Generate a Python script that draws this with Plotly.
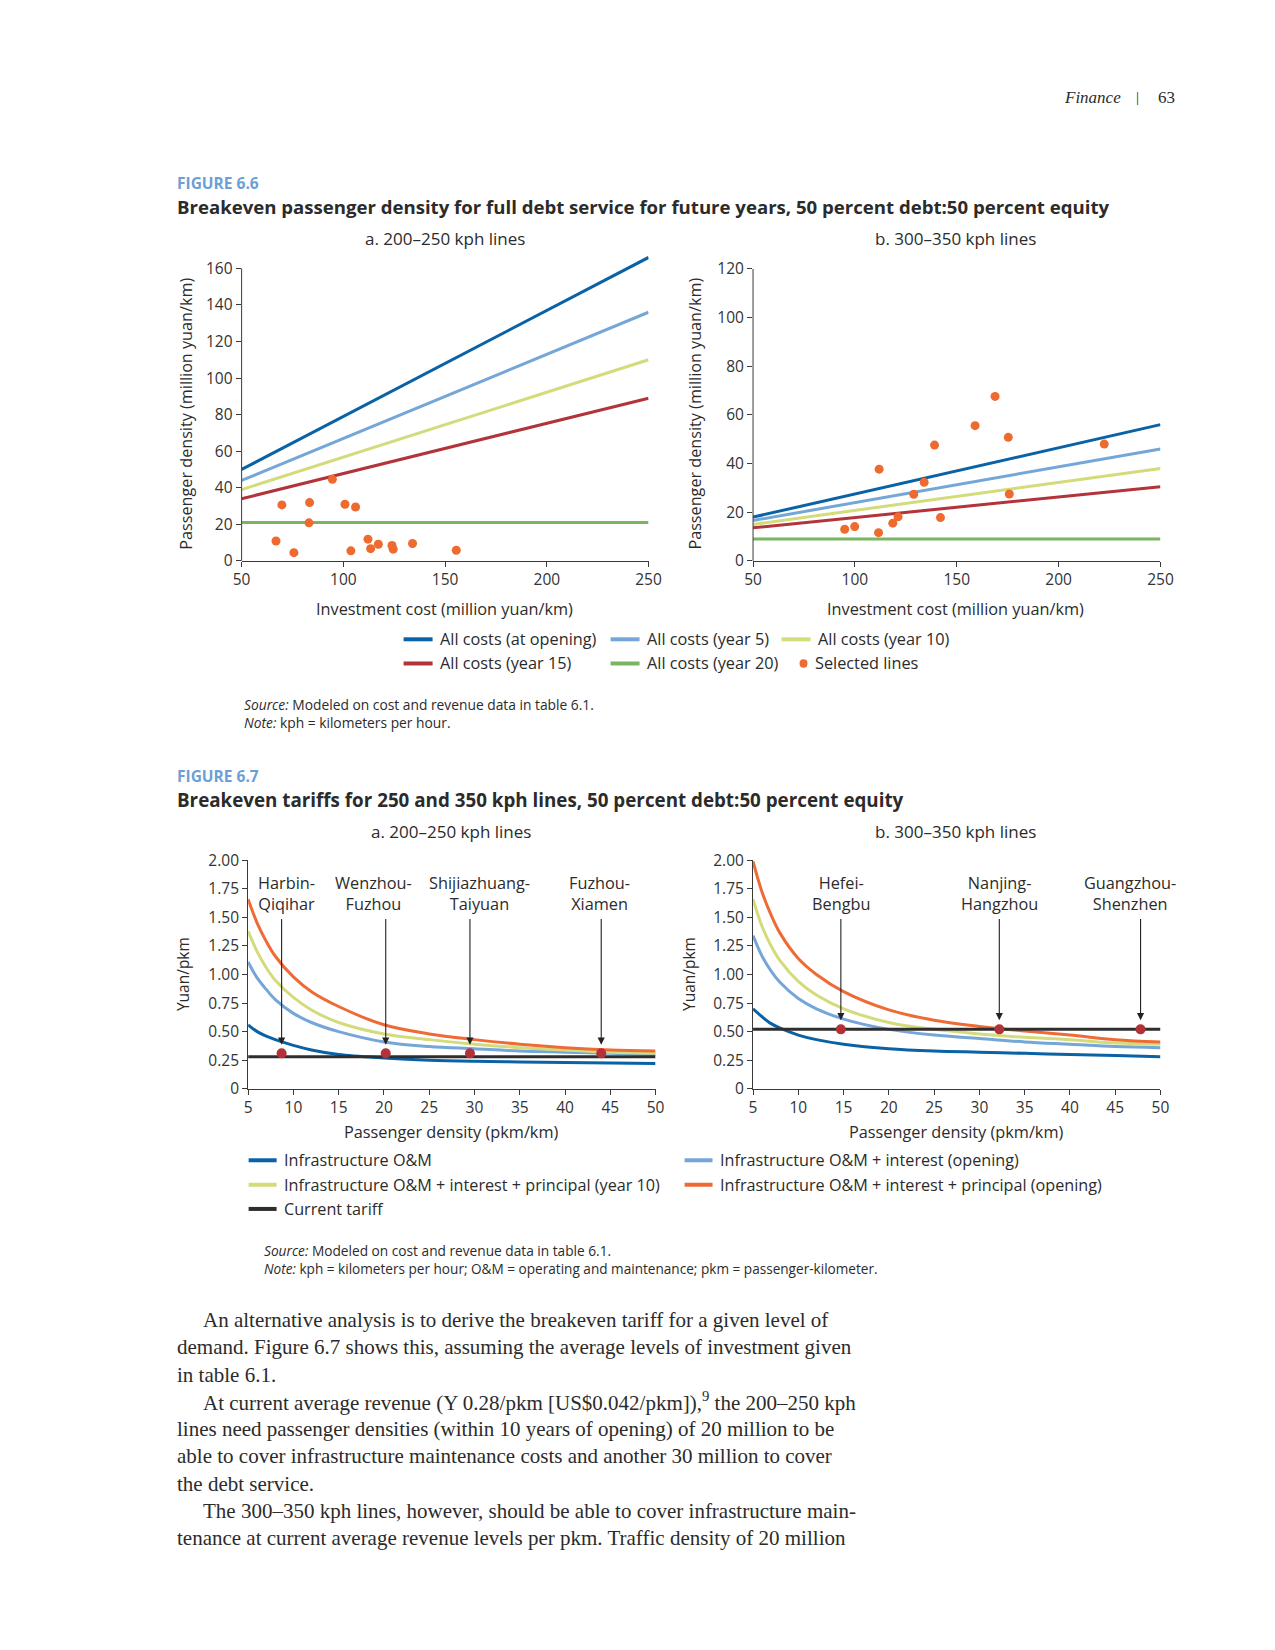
import plotly.graph_objects as go

W, H = 1275, 1650
# layout positions below are measured on the reference; these map them to page pixels
def X(px): return (1.0174 * (px - 241) + 236.7) / W
def Y(py): return 1 - (1.0125 * (py - 95) + 86.5) / H

# ---------------- DATA ----------------
# Figure 6.6 a (200-250 kph)
inv = [50, 250]
a_open = [50, 166]
a_y5 = [44, 136]
a_y10 = [39, 110]
a_y15 = [34, 89]
a_y20 = [21, 21]
pts_a_x = [94.6, 69.8, 83.4, 100.8, 106.0, 83.1, 66.9, 75.7, 103.7, 112.1, 113.4, 117.2, 123.9, 124.5, 134.0, 155.5]
pts_a_y = [44.6, 30.6, 31.9, 31.0, 29.5, 20.8, 10.9, 4.5, 5.5, 11.9, 6.7, 9.1, 8.4, 6.4, 9.5, 5.8]

# Figure 6.6 b (300-350 kph)
b_open = [18, 56]
b_y5 = [16.6, 46]
b_y10 = [15, 38]
b_y15 = [13.6, 30.5]
b_y20 = [9, 9]
pts_b_x = [95.0, 99.9, 111.6, 111.9, 118.6, 121.2, 128.9, 134.0, 139.1, 142.0, 159.0, 175.3, 175.8, 168.8, 222.4]
pts_b_y = [13.0, 14.1, 11.6, 37.7, 15.5, 18.1, 27.4, 32.3, 47.6, 17.8, 55.6, 50.8, 27.5, 67.6, 48.0]

# Figure 6.7 curves
dens = [5, 6, 7, 8, 10, 12, 15, 20, 25, 30, 35, 40, 45, 50]
ta_om = [0.56, 0.50, 0.46, 0.43, 0.38, 0.34, 0.30, 0.27, 0.25, 0.24, 0.235, 0.23, 0.225, 0.22]
ta_int = [1.11, 0.97, 0.87, 0.78, 0.66, 0.58, 0.50, 0.41, 0.37, 0.35, 0.33, 0.32, 0.31, 0.30]
ta_p10 = [1.38, 1.20, 1.06, 0.95, 0.80, 0.69, 0.58, 0.48, 0.43, 0.39, 0.36, 0.34, 0.32, 0.31]
ta_pop = [1.66, 1.45, 1.29, 1.16, 0.98, 0.85, 0.72, 0.56, 0.48, 0.43, 0.39, 0.36, 0.34, 0.33]
tariff_a = 0.28
lines_a = ["Harbin-<br>Qiqihar", "Wenzhou-<br>Fuzhou", "Shijiazhuang-<br>Taiyuan", "Fuzhou-<br>Xiamen"]
lines_a_x = [8.7, 20.2, 29.5, 44.0]
lines_a_lbl_x = [9.2, 18.9, 30.6, 43.8]
lines_a_y = [0.31, 0.31, 0.31, 0.31]

tb_om = [0.70, 0.63, 0.57, 0.53, 0.47, 0.43, 0.39, 0.35, 0.33, 0.32, 0.31, 0.30, 0.29, 0.28]
tb_int = [1.34, 1.16, 1.03, 0.93, 0.79, 0.70, 0.61, 0.52, 0.47, 0.44, 0.41, 0.39, 0.37, 0.36]
tb_p10 = [1.66, 1.42, 1.25, 1.12, 0.94, 0.82, 0.70, 0.58, 0.52, 0.48, 0.45, 0.43, 0.40, 0.39]
tb_pop = [1.99, 1.72, 1.52, 1.36, 1.14, 1.00, 0.85, 0.69, 0.60, 0.545, 0.505, 0.47, 0.43, 0.41]
tariff_b = 0.52
lines_b = ["Hefei-<br>Bengbu", "Nanjing-<br>Hangzhou", "Guangzhou-<br>Shenzhen"]
lines_b_x = [14.7, 32.2, 47.8]
lines_b_lbl_x = [14.7, 32.2, 46.6]
lines_b_y = [0.52, 0.52, 0.52]

yt66a = [0, 20, 40, 60, 80, 100, 120, 140, 160]
yt66b = [0, 20, 40, 60, 80, 100, 120]
yt67_vals = [0, 0.25, 0.5, 0.75, 1.0, 1.25, 1.5, 1.75, 2.0]
yt67_text = ["0", "0.25", "0.50", "0.75", "1.00", "1.25", "1.50", "1.75", "2.00"]

# ---------------- STYLE ----------------
C_DB = "#0a62a6"
C_LB = "#74a7d8"
C_YG = "#d3db7b"
C_RD = "#b2333a"
C_GR = "#7ab563"
C_OR = "#ee6a2f"
C_OR2 = "#ee6b35"
C_BK = "#2e2e2e"
C_DOT = "#b3323a"
C_AX = "#3a3a3a"
SANS = "Open Sans"
SERIF = "Liberation Serif"
TXT = "#2b2b2b"

fig = go.Figure()

def line(x, y, color, xa, ya, w=3, shape="linear"):
    fig.add_trace(go.Scatter(x=x, y=y, mode="lines", line=dict(color=color, width=w, shape=shape),
                             xaxis=xa, yaxis=ya, showlegend=False, hoverinfo="skip"))

# 6.6a
for ys, c in [(a_y20, C_GR), (a_y15, C_RD), (a_y10, C_YG), (a_y5, C_LB), (a_open, C_DB)]:
    line(inv, ys, c, "x", "y")
fig.add_trace(go.Scatter(x=pts_a_x, y=pts_a_y, mode="markers", marker=dict(color=C_OR, size=9),
                         xaxis="x", yaxis="y", showlegend=False, cliponaxis=False))
# 6.6b
for ys, c in [(b_y20, C_GR), (b_y15, C_RD), (b_y10, C_YG), (b_y5, C_LB), (b_open, C_DB)]:
    line(inv, ys, c, "x2", "y2")
fig.add_trace(go.Scatter(x=pts_b_x, y=pts_b_y, mode="markers", marker=dict(color=C_OR, size=9),
                         xaxis="x2", yaxis="y2", showlegend=False, cliponaxis=False))
# 6.7a
for ys, c in [(ta_om, C_DB), (ta_int, C_LB), (ta_p10, C_YG), (ta_pop, C_OR2)]:
    line(dens, ys, c, "x3", "y3", shape="spline")
line([dens[0], dens[-1]], [tariff_a, tariff_a], C_BK, "x3", "y3")
fig.add_trace(go.Scatter(x=lines_a_x, y=lines_a_y, mode="markers", marker=dict(color=C_DOT, size=10),
                         xaxis="x3", yaxis="y3", showlegend=False, cliponaxis=False))
# 6.7b
for ys, c in [(tb_om, C_DB), (tb_int, C_LB), (tb_p10, C_YG), (tb_pop, C_OR2)]:
    line(dens, ys, c, "x4", "y4", shape="spline")
line([dens[0], dens[-1]], [tariff_b, tariff_b], C_BK, "x4", "y4")
fig.add_trace(go.Scatter(x=lines_b_x, y=lines_b_y, mode="markers", marker=dict(color=C_DOT, size=10),
                         xaxis="x4", yaxis="y4", showlegend=False, cliponaxis=False))

axis_common = dict(ticks="outside", ticklen=5, tickcolor=C_AX, showgrid=False, zeroline=False,
                   tickfont=dict(family=SANS, size=15.5, color="#333"))
axl = dict(showline=True, linecolor=C_AX, linewidth=1)

fig.update_layout(
    width=W, height=H, margin=dict(l=0, r=0, t=0, b=0),
    paper_bgcolor="white", plot_bgcolor="white", showlegend=False,
    xaxis=dict(domain=[X(241), X(648)], range=[50, 250], dtick=50, anchor="y", **axl, **axis_common),
    yaxis=dict(domain=[Y(559), Y(253.4)], range=[0, 167], tickvals=yt66a, anchor="x", showline=False, **axis_common),
    xaxis2=dict(domain=[X(752.5), X(1160)], range=[50, 250], dtick=50, anchor="y2", **axl, **axis_common),
    yaxis2=dict(domain=[Y(559), Y(259.5)], range=[0, 123], tickvals=yt66b, anchor="x2", showline=False, **axis_common),
    xaxis3=dict(domain=[X(247.5), X(655)], range=[5, 50], dtick=5, tick0=5, anchor="y3", **axl, **axis_common),
    yaxis3=dict(domain=[Y(1087.4), Y(858.7)], range=[0, 2], tickvals=yt67_vals, ticktext=yt67_text, anchor="x3", **axl, **axis_common),
    xaxis4=dict(domain=[X(752.5), X(1160)], range=[5, 50], dtick=5, tick0=5, anchor="y4", **axl, **axis_common),
    yaxis4=dict(domain=[Y(1087.4), Y(858.7)], range=[0, 2], tickvals=yt67_vals, ticktext=yt67_text, anchor="x4", **axl, **axis_common),
)

ann = []
shapes = []
# y-axis lines for 6.6 panels stop at their top tick
shapes.append(dict(type="line", xref="x domain", yref="y", x0=0, x1=0, y0=0, y1=160, line=dict(color=C_AX, width=1)))
shapes.append(dict(type="line", xref="x2 domain", yref="y2", x0=0, x1=0, y0=0, y1=120, line=dict(color=C_AX, width=1)))

def txt(px, py, s, size=14, family=SANS, color=TXT, xanchor="left", yanchor="middle", angle=0):
    ann.append(dict(x=X(px), y=Y(py), xref="paper", yref="paper", text=s, showarrow=False,
                    xanchor=xanchor, yanchor=yanchor, textangle=angle,
                    font=dict(family=family, size=size, color=color)))

# header
txt(1123, 95, "<i>Finance</i>", size=17, family=SERIF, xanchor="right")
txt(1137, 95, "|", size=15, family=SERIF, xanchor="center")
txt(1166, 95, "63", size=17, family=SERIF, xanchor="center")

# Figure 6.6 titles
txt(174.5, 180.5, "<b>FIGURE 6.6</b>", size=15.5, color="#6b9fd5")
txt(174.5, 204.5, "<b>Breakeven passenger density for full debt service for future years, 50 percent debt:50 percent equity</b>", size=18.6)
txt(444, 236, "a. 200–250 kph lines", size=17, xanchor="center")
txt(955, 236, "b. 300–350 kph lines", size=17, xanchor="center")
txt(185, 412, "Passenger density (million yuan/km)", size=16.2, xanchor="center", angle=-90)
txt(694, 412, "Passenger density (million yuan/km)", size=16.2, xanchor="center", angle=-90)
txt(444, 607, "Investment cost (million yuan/km)", size=16.3, xanchor="center")
txt(955, 607, "Investment cost (million yuan/km)", size=16.3, xanchor="center")

# legend 6.6 (manual)
def swatch(x0, py, color, w=29, t=4):
    shapes.append(dict(type="line", xref="paper", yref="paper", x0=X(x0), x1=X(x0 + w), y0=Y(py), y1=Y(py),
                       line=dict(color=color, width=t)))
leg66 = [
    (403, 637.5, C_DB, "All costs (at opening)"),
    (610, 637.5, C_LB, "All costs (year 5)"),
    (781, 637.5, C_YG, "All costs (year 10)"),
    (403, 661.7, C_RD, "All costs (year 15)"),
    (610, 661.7, C_GR, "All costs (year 20)"),
]
for x0, py, c, s in leg66:
    swatch(x0, py, c)
    txt(x0 + 34, py, s, size=16.3)
shapes.append(dict(type="circle", xref="paper", yref="paper", x0=X(799), x1=X(807), y0=Y(657.5), y1=Y(665.9),
                   fillcolor=C_OR, line=dict(width=0)))
txt(812, 661.7, "Selected lines", size=16.3)

txt(241, 702.5, "<i>Source:</i> Modeled on cost and revenue data in table 6.1.", size=13.8)
txt(241, 720.5, "<i>Note:</i> kph = kilometers per hour.", size=13.8)

# Figure 6.7 titles
txt(174.5, 774.5, "<b>FIGURE 6.7</b>", size=15.5, color="#6b9fd5")
txt(174.5, 798.5, "<b>Breakeven tariffs for 250 and 350 kph lines, 50 percent debt:50 percent equity</b>", size=18.8)
txt(450, 830, "a. 200–250 kph lines", size=17, xanchor="center")
txt(955, 830, "b. 300–350 kph lines", size=17, xanchor="center")
txt(183, 973, "Yuan/pkm", size=15.5, xanchor="center", angle=-90)
txt(689, 973, "Yuan/pkm", size=15.5, xanchor="center", angle=-90)
txt(450, 1131, "Passenger density (pkm/km)", size=16.3, xanchor="center")
txt(955, 1131, "Passenger density (pkm/km)", size=16.3, xanchor="center")

leg67 = [
    (248, 1159, C_DB, "Infrastructure O&M"),
    (248, 1183.5, C_YG, "Infrastructure O&M + interest + principal (year 10)"),
    (248, 1207.7, C_BK, "Current tariff"),
    (684, 1159, C_LB, "Infrastructure O&M + interest (opening)"),
    (684, 1183.5, C_OR2, "Infrastructure O&M + interest + principal (opening)"),
]
for x0, py, c, s in leg67:
    swatch(x0, py, c, w=28)
    txt(x0 + 33, py, s, size=16.2)

txt(261, 1249, "<i>Source:</i> Modeled on cost and revenue data in table 6.1.", size=13.7)
txt(261, 1267, "<i>Note:</i> kph = kilometers per hour; O&M = operating and maintenance; pkm = passenger-kilometer.", size=13.6)

# arrows + route labels
for lx, ax_, s in zip(lines_a_lbl_x, lines_a_x, lines_a):
    ann.append(dict(x=lx, y=1.71, xref="x3", yref="y3", text=s, showarrow=False, xanchor="center",
                    yanchor="middle", font=dict(family=SANS, size=16.3, color=TXT)))
    ann.append(dict(x=ax_, y=0.385, ax=ax_, ay=1.50, xref="x3", yref="y3", axref="x3", ayref="y3",
                    text="", showarrow=True, arrowhead=2, arrowsize=1.3, arrowwidth=1.1, arrowcolor="#222"))
for lx, ax_, s in zip(lines_b_lbl_x, lines_b_x, lines_b):
    ann.append(dict(x=lx, y=1.71, xref="x4", yref="y4", text=s, showarrow=False, xanchor="center",
                    yanchor="middle", font=dict(family=SANS, size=16.3, color=TXT)))
    ann.append(dict(x=ax_, y=0.60, ax=ax_, ay=1.50, xref="x4", yref="y4", axref="x4", ayref="y4",
                    text="", showarrow=True, arrowhead=2, arrowsize=1.3, arrowwidth=1.1, arrowcolor="#222"))

# body text
body = [
    (200, "An alternative analysis is to derive the breakeven tariff for a given level of"),
    (174.5, "demand. Figure 6.7 shows this, assuming the average levels of investment given"),
    (174.5, "in table 6.1."),
    (200, "At current average revenue (Y 0.28/pkm [US$0.042/pkm]),<sup>9</sup> the 200–250 kph"),
    (174.5, "lines need passenger densities (within 10 years of opening) of 20 million to be"),
    (174.5, "able to cover infrastructure maintenance costs and another 30 million to cover"),
    (174.5, "the debt service."),
    (200, "The 300–350 kph lines, however, should be able to cover infrastructure main-"),
    (174.5, "tenance at current average revenue levels per pkm. Traffic density of 20 million"),
]
ys = [1319, 1346.3, 1373.6, 1400.9, 1428.2, 1455.5, 1482.8, 1510.1, 1537.4]
for (x0, s), py in zip(body, ys):
    txt(x0, py, s, size=21, family=SERIF)

fig.update_layout(annotations=ann, shapes=shapes)
fig.write_html("out.html", config={"displayModeBar": False},
               post_script="document.body.style.margin='0';document.body.style.overflow='hidden';")
